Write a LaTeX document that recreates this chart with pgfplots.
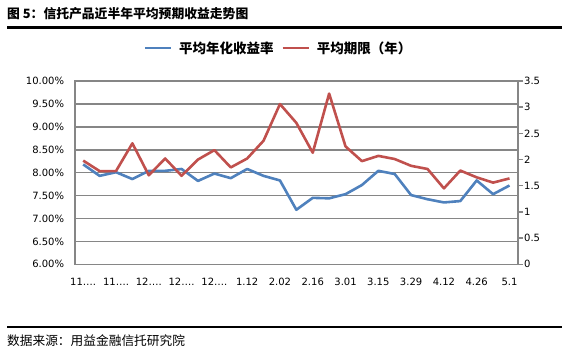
\documentclass[border=0pt]{standalone}
\usepackage{pgfplots}
\usepackage{pgfplotstable}
\pgfplotsset{compat=1.18}
\usepackage{fontspec}
\setmainfont{DejaVu Sans}
\newfontfamily\cjk{Noto Sans CJK SC}
\definecolor{sblue}{RGB}{79,129,189}
\definecolor{sred}{RGB}{192,80,77}
\definecolor{gridg}{RGB}{134,134,134}

\pgfplotstableread{
i blue red
0 8.18 1.98
1 7.93 1.78
2 8.01 1.78
3 7.86 2.31
4 8.04 1.70
5 8.04 2.02
6 8.08 1.69
7 7.82 2.00
8 7.98 2.18
9 7.88 1.85
10 8.08 2.02
11 7.93 2.36
12 7.83 3.06
13 7.19 2.70
14 7.45 2.13
15 7.44 3.26
16 7.53 2.25
17 7.73 1.97
18 8.04 2.07
19 7.97 2.01
20 7.51 1.88
21 7.42 1.82
22 7.35 1.45
23 7.38 1.79
24 7.83 1.66
25 7.53 1.56
26 7.72 1.64
}\datatable

\begin{document}
\begin{tikzpicture}[x=1pt,y=1pt]
\path[use as bounding box] (0,0) rectangle (564,354);
\node[anchor=west, inner sep=0pt, font=\cjk\bfseries\fontsize{12.8}{14}\selectfont] at (7,340) {图 5：信托产品近半年平均预期收益走势图};
\draw[line width=2.7pt] (7,326.7) -- (562,326.7);
\draw[line width=2.5pt] (7,27.2) -- (562,27.2);
\node[anchor=west, inner sep=0pt, font=\cjk\fontsize{12.7}{14}\selectfont] at (7,13.4) {数据来源：用益金融信托研究院};

\begin{axis}[
  at={(75pt,89.7pt)}, anchor=south west, scale only axis,
  width=442.7pt, height=183.3pt,
  xmin=-0.5, xmax=26.5, ymin=6, ymax=10,
  ytick={6,6.5,7,7.5,8,8.5,9,9.5,10},
  xtick={0,2,...,26},
  xticklabels={11….,11….,12….,12….,12….,1.12,2.02,2.16,3.01,3.15,3.29,4.12,4.26,5.1},
  /pgf/number format/assume math mode=true,
  yticklabel={\pgfmathprintnumber[fixed,fixed zerofill,precision=2]{\tick}\%},
  tick label style={font=\fontsize{10}{12}\selectfont},
  major tick length=0pt,
  ymajorgrids,
  grid style={gridg, line width=1.6pt},
  axis line style={gridg, line width=1.6pt},
  yticklabel style={inner xsep=0pt, xshift=-10.7pt},
  xticklabel style={inner ysep=0pt, yshift=-14pt, text height=7.3pt},
  legend columns=2,
  legend image code/.code={\draw[#1] (0pt,0pt) -- (26pt,0pt);},
  legend style={at={(0.4574,1.180)}, anchor=center, draw=none, fill=none,
    inner sep=0pt, font=\cjk\bfseries\fontsize{13.5}{15}\selectfont,
    nodes={inner xsep=0pt, inner ysep=1pt},
    /tikz/every odd column/.append style={column sep=7pt},
    /tikz/every even column/.append style={column sep=7.5pt}},
]
\addplot[sblue, line width=2.6pt, line join=round, no marks] table[x=i, y=blue] {\datatable};
\addlegendentry{平均年化收益率}
\addlegendimage{sred, line width=2.6pt}
\addlegendentry{平均期限（年）}
\end{axis}

\begin{axis}[
  at={(75pt,89.7pt)}, anchor=south west, scale only axis,
  width=442.7pt, height=183.3pt,
  xmin=-0.5, xmax=26.5, ymin=0, ymax=3.5,
  ytick={0,0.5,1,1.5,2,2.5,3,3.5},
  axis x line=none, axis y line*=right, ytick pos=right,
  tick align=outside, major tick length=5.5pt,
  tick style={gridg, line width=1.4pt},
  axis line style={gridg, line width=1.6pt, -},
  /pgf/number format/assume math mode=true,
  tick label style={font=\fontsize{10}{12}\selectfont},
  yticklabel style={inner xsep=0.8pt},
]
\addplot[sred, line width=2.6pt, line join=round, no marks] table[x=i, y=red] {\datatable};
\end{axis}
\end{tikzpicture}
\end{document}
